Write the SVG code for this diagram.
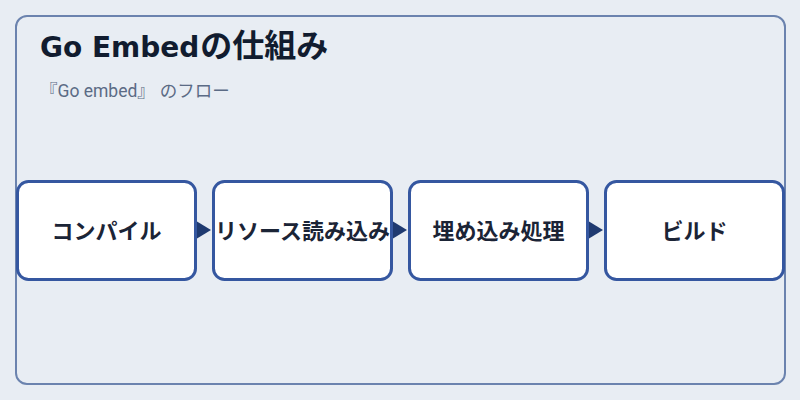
<svg xmlns="http://www.w3.org/2000/svg" width="800" height="400" viewBox="0 0 800 400">
  <style>
    .frame { fill: #e8edf3; stroke: #6b83ae; stroke-width: 2; }
    .box { fill: #ffffff; stroke: #3557a0; stroke-width: 3; }
    .label { font-family: "Noto Sans CJK JP", "Noto Sans", sans-serif; font-size: 22px; font-weight: 700; fill: #1b2436; text-anchor: middle; }
    .title { font-family: "DejaVu Sans", "Noto Sans CJK JP", sans-serif; font-size: 28px; font-weight: 700; fill: #111c2f; }
    .title-ja { font-family: "Noto Sans CJK JP", sans-serif; font-size: 32px; }
    .subtitle { font-family: Roboto, "Noto Sans CJK JP", sans-serif; font-size: 17.5px; font-weight: 400; fill: #5b6b85; }
    .arrow { fill: #1f3a70; }
  </style>
  <rect x="0" y="0" width="800" height="400" fill="#e8edf3"/>
  <rect class="frame" x="16" y="16" width="769" height="368" rx="11"/>
  <text class="title" x="40" y="56.5">Go Embed<tspan class="title-ja" dx="1">の仕組み</tspan></text>
  <text class="subtitle" x="40" y="96.5">『Go embed』<tspan dx="5">のフロー</tspan></text>
  <g id="connectors">
    <polygon class="arrow" points="197,221.5 211,230 197,238.5"/>
    <polygon class="arrow" points="393,221.5 407,230 393,238.5"/>
    <polygon class="arrow" points="589,221.5 603,230 589,238.5"/>
  </g>
  <g id="node-compile">
    <rect class="box" x="17.5" y="181.5" width="178" height="98" rx="11"/>
    <text class="label" x="106.5" y="238.5">コンパイル</text>
  </g>
  <g id="node-read">
    <rect class="box" x="213.5" y="181.5" width="178" height="98" rx="11"/>
    <text class="label" x="302.5" y="238.5">リソース読み込み</text>
  </g>
  <g id="node-embed">
    <rect class="box" x="409.5" y="181.5" width="178" height="98" rx="11"/>
    <text class="label" x="498.5" y="238.5">埋め込み処理</text>
  </g>
  <g id="node-build">
    <rect class="box" x="605.5" y="181.5" width="178" height="98" rx="11"/>
    <text class="label" x="694.5" y="238.5">ビルド</text>
  </g>
</svg>
